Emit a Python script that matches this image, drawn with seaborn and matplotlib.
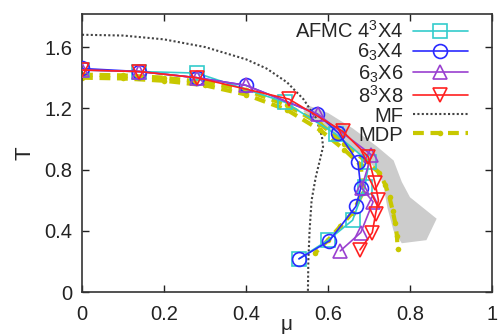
import numpy as np
import pandas as pd
import matplotlib
matplotlib.use("Agg")
import matplotlib.pyplot as plt
import seaborn as sns

# ---- data ----
afmc_mu = [0.0, 0.14, 0.28, 0.495, 0.62, 0.70, 0.69, 0.66, 0.60, 0.53]
afmc_T  = [1.45, 1.44, 1.43, 1.24, 1.03, 0.85, 0.69, 0.47, 0.34, 0.22]

b64_mu = [0.0, 0.14, 0.28, 0.40, 0.573, 0.625, 0.673, 0.68, 0.668, 0.603, 0.529]
b64_T  = [1.46, 1.44, 1.40, 1.35, 1.165, 1.04, 0.85, 0.68, 0.56, 0.335, 0.218]

b66_mu = [0.0, 0.14, 0.28, 0.40, 0.576, 0.706, 0.682, 0.71, 0.68, 0.63]
b66_T  = [1.45, 1.44, 1.40, 1.35, 1.16, 0.897, 0.68, 0.59, 0.39, 0.27]

b88_mu = [0.0, 0.14, 0.28, 0.505, 0.636, 0.698, 0.715, 0.723, 0.716, 0.708, 0.678]
b88_T  = [1.45, 1.44, 1.40, 1.26, 1.05, 0.885, 0.71, 0.60, 0.51, 0.39, 0.277]

mf_mu = [0.0, 0.1, 0.2, 0.3, 0.4, 0.45, 0.5, 0.54, 0.57, 0.585, 0.588, 0.58, 0.57, 0.56, 0.555, 0.552, 0.551]
mf_T  = [1.68, 1.675, 1.65, 1.60, 1.52, 1.46, 1.37, 1.26, 1.14, 1.02, 0.95, 0.86, 0.75, 0.60, 0.40, 0.20, 0.0]

mdp_out_mu = [0.0, 0.1, 0.2, 0.3, 0.4, 0.5, 0.58, 0.64, 0.69, 0.725, 0.74, 0.75, 0.758, 0.764, 0.768, 0.77]
mdp_out_T  = [1.42, 1.415, 1.40, 1.37, 1.32, 1.22, 1.10, 0.97, 0.86, 0.78, 0.70, 0.62, 0.53, 0.45, 0.37, 0.28]

mdp_in_mu = [0.0, 0.1, 0.2, 0.3, 0.4, 0.5, 0.58, 0.64, 0.68, 0.685, 0.66, 0.63, 0.60, 0.568]
mdp_in_T  = [1.40, 1.395, 1.38, 1.35, 1.29, 1.19, 1.06, 0.93, 0.83, 0.65, 0.52, 0.43, 0.34, 0.255]

band_mu = [0.55, 0.60, 0.66, 0.72, 0.76, 0.78, 0.80, 0.865, 0.84, 0.78,
           0.76, 0.745, 0.735, 0.72, 0.68, 0.62, 0.57, 0.54]
band_T  = [1.22, 1.17, 1.07, 0.95, 0.86, 0.72, 0.62, 0.48, 0.34, 0.32,
           0.40, 0.55, 0.70, 0.80, 0.90, 1.02, 1.12, 1.18]

xticks = [0, 0.2, 0.4, 0.6, 0.8, 1]
xticklabels = ["0", "0.2", "0.4", "0.6", "0.8", "1"]
yticks = [0, 0.4, 0.8, 1.2, 1.6]
yticklabels = ["0", "0.4", "0.8", "1.2", "1.6"]

sns.set_theme(style="ticks")
plt.rcParams["font.family"] = ["Liberation Sans", "DejaVu Sans"]
plt.rcParams["mathtext.fontset"] = "custom"
plt.rcParams["mathtext.rm"] = "Liberation Sans"
plt.rcParams["mathtext.it"] = "Liberation Sans"

fig = plt.figure(figsize=(5, 3.35), dpi=100)
ax = fig.add_axes([0.164, 0.1275, 0.82, 0.8305])

ax.fill(band_mu, band_T, color="#cccccc", lw=0, zorder=1)

def series(x, y, color, marker, label, ms=10):
    df = pd.DataFrame({"mu": x, "T": y})
    sns.lineplot(data=df, x="mu", y="T", sort=False, estimator=None, ax=ax,
                 color=color, marker=marker, markersize=ms, markerfacecolor="none",
                 markeredgecolor=color, markeredgewidth=1.2, linewidth=1.2,
                 label=label, zorder=3)

series(afmc_mu, afmc_T, "#33cccc", "s", "AFMC 4$^3$X4", ms=10)
series(b64_mu, b64_T, "#2a2aff", "o", "6$_3$X4", ms=10)
series(b66_mu, b66_T, "#9a40d0", "^", "6$_3$X6", ms=10)
series(b88_mu, b88_T, "#ff2020", "v", "8$^3$X8", ms=10)

sns.lineplot(x=mf_mu, y=mf_T, sort=False, estimator=None, ax=ax, color="#444444",
             linestyle=(0, (1, 1.1)), linewidth=1.5, label="MF", zorder=2)

ycol = "#c8c800"
sns.lineplot(x=mdp_out_mu, y=mdp_out_T, sort=False, estimator=None, ax=ax, color=ycol,
             linestyle=(0, (2.6, 1.6)), linewidth=3, marker="o", markersize=4,
             markeredgewidth=0, label="MDP", zorder=2)
sns.lineplot(x=mdp_in_mu, y=mdp_in_T, sort=False, estimator=None, ax=ax, color=ycol,
             linestyle=(0, (2.6, 1.6)), linewidth=3, marker="o", markersize=4,
             markeredgewidth=0, zorder=2)

ax.set_xlim(0, 1)
ax.set_ylim(0, 1.815)
ax.set_xticks(xticks)
ax.set_xticklabels(xticklabels)
ax.set_yticks(yticks)
ax.set_yticklabels(yticklabels)
ax.tick_params(direction="in", top=True, right=True, length=5, width=1,
               labelsize=14.5, colors="#222222", pad=7)
ax.tick_params(axis="x", pad=9)
for s in ax.spines.values():
    s.set_linewidth(1.2)
    s.set_color("#333333")

ax.set_xlabel("μ", fontsize=15, labelpad=-6)
ax.set_ylabel("T", fontsize=16, labelpad=6)

ax.legend(loc="upper right", bbox_to_anchor=(0.955, 1.0), markerfirst=False,
          frameon=False, fontsize=14.5, handlelength=2.7, labelspacing=0.0,
          handletextpad=0.5, borderaxespad=0.1, borderpad=0.2)

fig.savefig("out.png", dpi=100)
